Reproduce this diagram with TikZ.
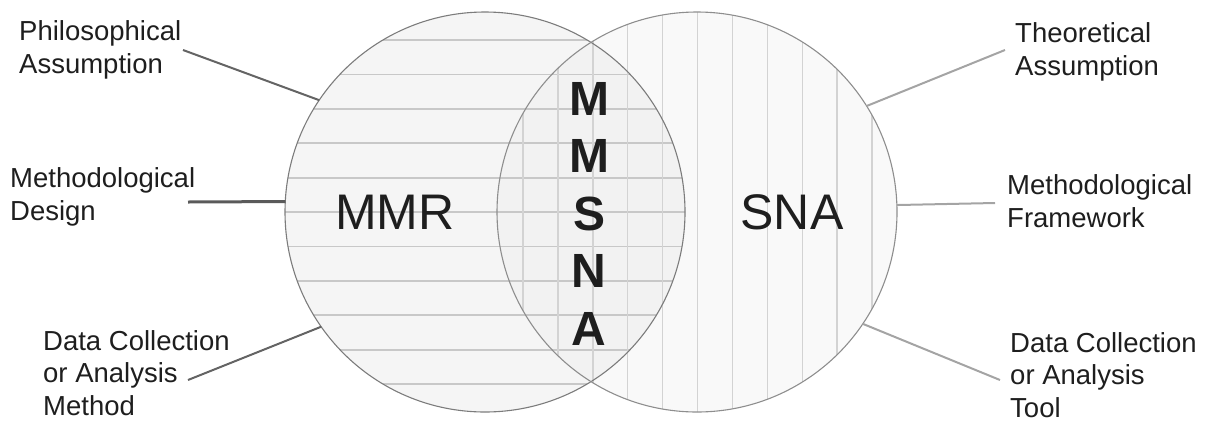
\documentclass[tikz,border=0pt]{standalone}
\usepackage{fontspec}
\setmainfont{Liberation Sans}
\definecolor{leftfill}{HTML}{F5F5F5}
\definecolor{rightfill}{HTML}{F9F9F9}
\definecolor{lensfill}{HTML}{F2F2F2}
\definecolor{hatchL}{HTML}{C8C8C8}
\definecolor{hatchR}{HTML}{D3D3D3}
\definecolor{rimL}{HTML}{7C7C7C}
\definecolor{rimR}{HTML}{8E8E8E}
\definecolor{leaderL}{HTML}{646464}
\definecolor{leaderD}{HTML}{5A5A5A}
\definecolor{leaderR}{HTML}{A4A4A4}
\definecolor{ink}{HTML}{1E1E1E}
\begin{document}
\begin{tikzpicture}[x=1pt,y=-1pt,
  lbl/.style={font=\fontsize{27.5}{32.5}\selectfont, align=left, inner sep=0pt, text=ink},
  big/.style={font=\fontsize{50}{60}\selectfont, inner sep=0pt, text=ink},
  ring/.style={draw, circle, minimum size=400pt, inner sep=0pt, outer sep=0pt, line width=1.1pt},
  leadL/.style={draw=leaderL, line width=2pt},
  leadR/.style={draw=leaderR, line width=2pt}]
\useasboundingbox (0,0) rectangle (1209,421);

% circle backgrounds
\fill[leftfill] (485,212) circle[radius=200];
\fill[rightfill] (697,212) circle[radius=200];

% lens and horizontal hatching inside the MMR circle
\begin{scope}
  \clip (485,212) circle[radius=200];
  \fill[lensfill] (697,212) circle[radius=200];
  \foreach \k in {0,...,10}
    \draw[hatchL, line width=1.8pt] (280,40+34.4*\k) -- (700,40+34.4*\k);
\end{scope}

% vertical hatching inside the SNA circle
\begin{scope}
  \clip (697,212) circle[radius=200];
  \foreach \k in {0,...,10}
    \draw[hatchR, line width=1.4pt] (523+34.9*\k,0) -- (523+34.9*\k,421);
\end{scope}

% outlines
\node[ring, draw=rimL] (mmr) at (485,212) {};
\node[ring, draw=rimR] (sna) at (697,212) {};

% circle titles
\node[big] (mmrtitle) at (395,212) {MMR};
\node[big] (snatitle) at (792,212) {SNA};
\node[big, font=\fontsize{48}{57.5}\selectfont\bfseries, align=center] (mmsna) at (589,213.5) {M\\M\\S\\N\\A};

% side labels (anchored at the baseline of their last line)
\node[lbl, anchor=base west] (philo) at (19,73) {Philosophical\\Assumption};
\node[lbl, anchor=base west] (design) at (10,220) {Methodological\\Design};
\node[lbl, anchor=base west] (method) at (43,415) {Data Collection\\or Analysis\\Method};
\node[lbl, anchor=base west] (theo) at (1015,75) {Theoretical\\Assumption};
\node[lbl, anchor=base west] (frame) at (1007,227) {Methodological\\Framework};
\node[lbl, anchor=base west] (tool) at (1010,417) {Data Collection\\or Analysis\\Tool};

% leader line ends
\coordinate (philoTip) at (183,50);
\coordinate (designTip) at (188,202);
\coordinate (methodTip) at (188,380);
\coordinate (theoTip) at (1005,50);
\coordinate (frameTip) at (995,203);
\coordinate (toolTip) at (1000,380);

% leader lines
\draw[leadL] (philoTip) -- (mmr.146.6);
\draw[leadL, draw=leaderD, line width=3pt] (designTip) -- (mmr.177);
\draw[leadL] (methodTip) -- (mmr.215);
\draw[leadR] (theoTip) -- (sna.32.2);
\draw[leadR] (frameTip) -- (sna.2.6);
\draw[leadR] (toolTip) -- (sna.-34.2);
\end{tikzpicture}
\end{document}
